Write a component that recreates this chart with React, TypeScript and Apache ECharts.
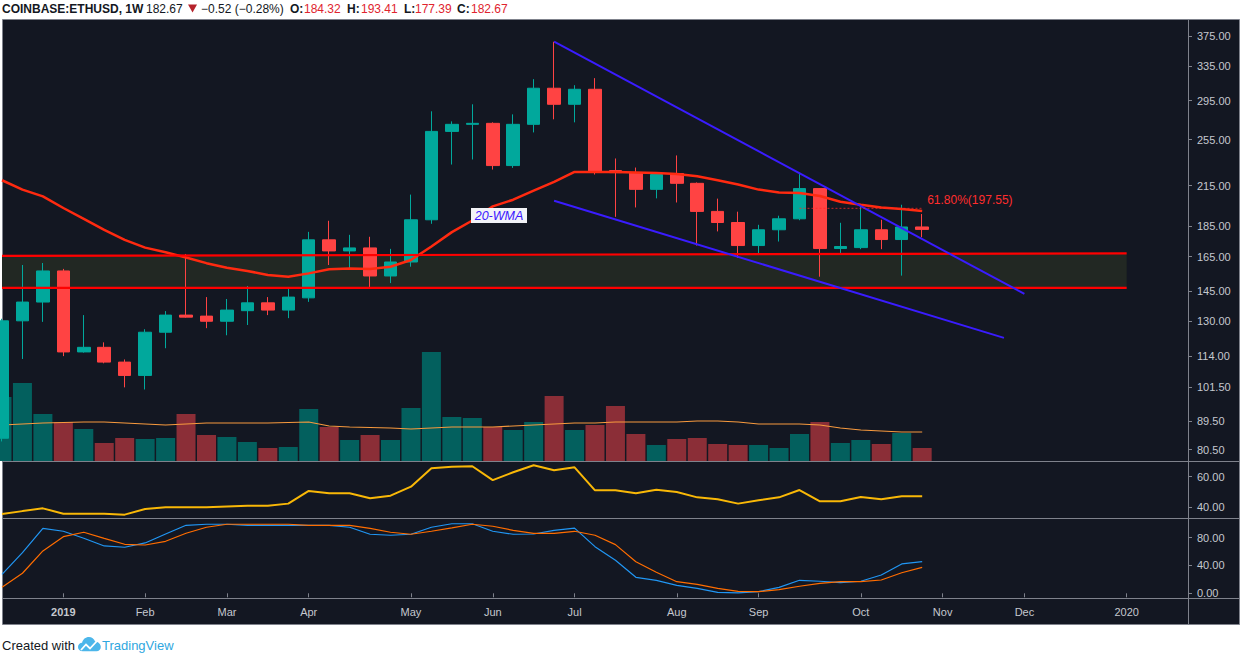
import React, { useEffect, useRef } from "react";
import * as echarts from "echarts";

// ---------- DATA ----------
const weeks = ["2018-12-10","2018-12-17","2018-12-24","2018-12-31","2019-01-07","2019-01-14","2019-01-21","2019-01-28","2019-02-04","2019-02-11","2019-02-18","2019-02-25","2019-03-04","2019-03-11","2019-03-18","2019-03-25","2019-04-01","2019-04-08","2019-04-15","2019-04-22","2019-04-29","2019-05-06","2019-05-13","2019-05-20","2019-05-27","2019-06-03","2019-06-10","2019-06-17","2019-06-24","2019-07-01","2019-07-08","2019-07-15","2019-07-22","2019-07-29","2019-08-05","2019-08-12","2019-08-19","2019-08-26","2019-09-02","2019-09-09","2019-09-16","2019-09-23","2019-09-30","2019-10-07","2019-10-14","2019-10-21","2019-10-28","2019-11-04","2019-11-11","2019-11-18","2019-11-25","2019-12-02","2019-12-09","2019-12-16","2019-12-23","2019-12-30","2020-01-06","2020-01-13","2020-01-20"];

const candleOpen = [84, 130, 139.4, 156.5, 115.8, 117.8, 111.5, 106.1, 124.6, 132.8, 132.3, 129.8, 135, 139, 135.3, 141.6, 175.7, 168.6, 170.5, 153.6, 161.8, 189.3, 263, 270, 271, 231.6, 270, 308.8, 290.9, 307.6, 227.3, 225.6, 212, 224.8, 216.8, 195.3, 187.4, 172, 182.4, 190, 212.6, 170.1, 170.7, 182.4, 175.9, 184.32];
const candleClose = [130, 139.4, 156.5, 115.8, 117.8, 111.5, 106.1, 124.6, 132.8, 131.8, 129.8, 135.3, 139, 135.3, 142, 175.7, 168.6, 170.5, 153.6, 161.8, 189.3, 263, 270, 271, 231.6, 270, 308.8, 290.9, 307.6, 226.5, 225.6, 212, 224, 216.8, 195.3, 187.4, 172, 182.4, 190, 212.6, 170.1, 171.4, 182.4, 175.9, 184.32, 182.67];
const candleLow = [83, 112.8, 129.5, 114, 115.5, 111, 101.5, 100.7, 117.4, 131.5, 126.5, 123.2, 128, 132.8, 131.3, 139.5, 160, 157.1, 146.9, 149.6, 159, 186.5, 232.5, 236.9, 228.2, 229.6, 262, 275.1, 272, 224, 191.4, 198.2, 205, 201.9, 172, 181.3, 164.3, 166.1, 174.6, 189, 153.2, 166.3, 169.7, 169.7, 153.8, 177.39];
const candleHigh = [131, 160, 161.2, 157.7, 132.8, 120, 112.6, 126, 134.8, 166.7, 142, 141, 148, 142, 146.3, 181, 188.6, 179, 177.7, 169.9, 207.9, 283.4, 273, 290.9, 272, 280.2, 319.4, 367.1, 312.3, 320.6, 237.8, 229.9, 225.9, 240.5, 217.5, 204.8, 195.1, 185.8, 192.2, 225.6, 213, 187.2, 199, 189.3, 200.2, 193.41];

const volume = [640, 780, 470, 390, 320, 180, 230, 220, 230, 470, 260, 240, 190, 130, 140, 520, 340, 210, 260, 210, 530, 1090, 440, 430, 340, 310, 390, 650, 310, 360, 550, 270, 160, 220, 230, 170, 160, 160, 130, 270, 390, 180, 210, 170, 280, 130];
const volumeMA = [360, 370, 380, 385, 390, 390, 380, 370, 360, 370, 380, 380, 380, 380, 385, 390, 350, 340, 335, 330, 320, 330, 340, 340, 340, 350, 360, 370, 380, 380, 390, 390, 390, 390, 400, 400, 390, 370, 370, 370, 360, 330, 310, 300, 290, 290];

const wma20 = [219.3, 211.8, 206.5, 197.8, 190.0, 182.4, 175.7, 170.7, 167.8, 164.5, 161.1, 158.4, 156.5, 154.2, 153.2, 155.1, 157.5, 158.0, 157.7, 159.0, 163.0, 171.4, 180.8, 188.8, 199.0, 204.0, 211.0, 218.0, 226.2, 226.2, 226.2, 225.8, 225.2, 224.5, 222.6, 219.3, 215.8, 211.8, 209.6, 209.2, 206.8, 202.4, 200.2, 198.2, 197.1, 195.6];

const rsi = [35.6, 37.5, 39.3, 35.8, 35.8, 35.8, 35.2, 38.9, 40.0, 40.0, 40.0, 40.5, 41.0, 41.0, 42.4, 50.7, 49.2, 49.2, 45.9, 47.6, 53.5, 65.5, 66.5, 66.8, 57.8, 62.9, 67.5, 64.2, 66.1, 51.1, 51.1, 49.2, 51.5, 50.0, 46.5, 45.2, 42.4, 44.6, 46.5, 51.3, 43.9, 43.9, 46.7, 45.2, 47.2, 47.2];
const stochK = [27.3, 58.4, 93.5, 89.2, 79.1, 68.1, 66.2, 72.4, 85.3, 97.8, 99.3, 99.3, 97.8, 97.8, 97.8, 97.8, 97.8, 95.0, 84.9, 83.5, 84.9, 95.0, 100, 100, 89.2, 84.9, 85.3, 90.6, 93.8, 67.1, 47.5, 23.0, 18.7, 11.5, 7.2, 1.4, 0.5, 2.4, 8.6, 18.7, 17.3, 15.3, 17.3, 26.3, 42.2, 45.5];
const stochD = [8.6, 28.8, 60.9, 81.4, 87.8, 79.1, 70.5, 69.5, 74.8, 86.3, 95.0, 99.3, 99.3, 99.3, 99.3, 97.8, 97.8, 97.8, 93.5, 87.8, 84.9, 89.2, 94.0, 99.3, 96.4, 90.6, 86.3, 86.3, 89.2, 83.5, 70.0, 45.5, 30.2, 16.7, 12.9, 7.2, 2.9, 2.4, 5.2, 10.1, 14.4, 16.7, 16.7, 19.1, 29.6, 37.4];

const priceTicks = [375, 335, 295, 255, 215, 185, 165, 145, 130, 114, 101.5, 89.5, 80.5];
const rsiTicks = [40, 60];
const stochTicks = [0, 40, 80];
const monthTickWeeks = ["2018-12-31", "2019-01-28", "2019-02-25", "2019-03-25", "2019-04-29", "2019-05-27", "2019-06-24", "2019-07-29", "2019-08-26", "2019-09-30", "2019-10-28", "2019-11-25", "2019-12-30"];
const monthTickLabels = ["2019", "Feb", "Mar", "Apr", "May", "Jun", "Jul", "Aug", "Sep", "Oct", "Nov", "Dec", "2020"];
const boldTickLabels = ["2019"];

const zoneWeeks = ["2018-12-10", "2019-12-30"];
const zoneUpper = [165.5, 167.1];
const zoneLower = [146.9, 146.9];
const upperTrendWeeks = ["2019-06-17", "2019-11-25"];
const upperTrendPrices = [367.2, 143.7];
const lowerTrendWeeks = ["2019-06-17", "2019-11-18"];
const lowerTrendPrices = [203.2, 122.0];
const fibWeeks = ["2019-09-09", "2019-10-21"];
const fibLevel = 197.55;
const fibLabel = "61.80%(197.55)";

const priceAxisRange = [77.18, 399.5];
const rsiAxisRange = [33.0, 70.26];
const stochAxisRange = [-6.76, 108.3];
const volumeAxisMax = 4420;

// ---------- STYLE ----------
const BG = "#131722";
const LINE = "#7f828c";
const LABEL = "#c5c8cf";
const UP = "#01a89c";
const DOWN = "#ff4343";
const UP_VOL = "#03605e";
const DOWN_VOL = "#8b2e37";
const FONT = '"Liberation Sans", Arial, sans-serif';

const L = Math.log;

echarts.graphic.registerShape(
  "tvlogo",
  echarts.graphic.extendPath(
    "M5 16 C2 16 0 14 0 11.5 C0 9 2 7.2 4.3 7.1 C5 3.5 8 1 11.5 1 C14.5 1 17 3 18 5.8 C21.3 6 24 8.5 24 11.5 C24 14 22 16 19.5 16 Z",
    {}
  ) as any
);

function buildOption(): any {
  const tickSet = new Set(monthTickWeeks);
  const showTick = (i: number) => tickSet.has(weeks[i]);
  const fmtMonth = (v: string) => {
    const t = monthTickLabels[monthTickWeeks.indexOf(v)] || "";
    return boldTickLabels.includes(t) ? `{b|${t}}` : t;
  };

  const grids = [
    { left: 2, right: 55, top: 19, height: 442 },
    { left: 2, right: 55, top: 461, height: 57 },
    { left: 2, right: 55, top: 518, height: 80 },
  ].map((g) => ({ ...g, show: false, containLabel: false, outerBoundsMode: "none" }));

  const xAxes = [0, 1, 2].map((gi) => ({
    type: "category",
    gridIndex: gi,
    data: weeks,
    boundaryGap: false,
    axisLine: { show: false },
    splitLine: { show: false },
    axisTick: { show: gi === 2, interval: showTick, length: 4, lineStyle: { color: LINE } },
    axisLabel: {
      show: gi === 2,
      interval: showTick,
      formatter: fmtMonth,
      color: LABEL,
      fontSize: 11,
      fontFamily: FONT,
      margin: 8,
      rich: { b: { fontWeight: "bold", color: LABEL, fontSize: 11, fontFamily: FONT } },
    },
  }));

  const yAxisCommon = (gi: number, min: number, max: number, ticks: number[], fmt: (v: number) => string) => ({
    type: "value",
    gridIndex: gi,
    position: "right",
    min,
    max,
    splitLine: { show: false },
    axisLine: { show: false },
    axisTick: { show: true, customValues: ticks, length: 4, lineStyle: { color: LINE } },
    axisLabel: { customValues: ticks, formatter: fmt, color: LABEL, fontSize: 11, fontFamily: FONT, margin: 9 },
  });

  const yAxes = [
    yAxisCommon(0, L(priceAxisRange[0]), L(priceAxisRange[1]), priceTicks.map(L), (v) => Math.exp(v).toFixed(2)),
    { type: "value", gridIndex: 0, min: 0, max: volumeAxisMax, show: false, splitLine: { show: false } },
    yAxisCommon(1, rsiAxisRange[0], rsiAxisRange[1], rsiTicks, (v) => v.toFixed(2)),
    yAxisCommon(2, stochAxisRange[0], stochAxisRange[1], stochTicks, (v) => v.toFixed(2)),
  ];

  const candleData = candleOpen.map((o, i) => [L(o), L(candleClose[i]), L(candleLow[i]), L(candleHigh[i])]);
  const volData = volume.map((v, i) => ({
    value: v,
    itemStyle: { color: candleClose[i] >= candleOpen[i] ? UP_VOL : DOWN_VOL },
  }));

  const line = (data: any[], color: string, width: number, z: number, xi = 0, yi = 0, extra: any = {}) => ({
    type: "line",
    data,
    xAxisIndex: xi,
    yAxisIndex: yi,
    symbol: "none",
    silent: true,
    lineStyle: { color, width },
    z,
    ...extra,
  });

  const series: any[] = [
    {
      type: "custom",
      xAxisIndex: 0,
      yAxisIndex: 0,
      silent: true,
      z: 1,
      data: [[zoneWeeks[0], L(zoneLower[0])]],
      renderItem: (_p: any, api: any) => {
        const i0 = weeks.indexOf(zoneWeeks[0]);
        const i1 = weeks.indexOf(zoneWeeks[1]);
        const pts = [
          api.coord([i0, L(zoneLower[0])]),
          api.coord([i1, L(zoneLower[1])]),
          api.coord([i1, L(zoneUpper[1])]),
          api.coord([i0, L(zoneUpper[0])]),
        ];
        return { type: "polygon", shape: { points: pts }, style: { fill: "#222823" } };
      },
    },
    { type: "bar", data: volData, xAxisIndex: 0, yAxisIndex: 1, barWidth: 19, silent: true, z: 2 },
    line(volumeMA, "#f79a3e", 1.2, 3, 0, 1),
    {
      type: "candlestick",
      data: candleData,
      xAxisIndex: 0,
      yAxisIndex: 0,
      barWidth: 13,
      silent: true,
      z: 4,
      itemStyle: { color: UP, color0: DOWN, borderColor: UP, borderColor0: DOWN, borderWidth: 1 },
    },
    line(wma20.map(L), "#ff2a10", 2.5, 5),
    line(zoneWeeks.map((w, i) => [w, L(zoneUpper[i])]), "#ff0000", 2.2, 6),
    line(zoneWeeks.map((w, i) => [w, L(zoneLower[i])]), "#ff0000", 2.2, 6),
    line(upperTrendWeeks.map((w, i) => [w, L(upperTrendPrices[i])]), "#3a1cff", 2, 7),
    line(lowerTrendWeeks.map((w, i) => [w, L(lowerTrendPrices[i])]), "#3a1cff", 2, 7),
    {
      ...line(fibWeeks.map((w) => [w, L(fibLevel)]), "rgba(255,40,40,0.75)", 1, 7),
      lineStyle: { color: "rgba(255,40,40,0.75)", width: 1, type: [2, 2] },
      endLabel: {
        show: true,
        formatter: fibLabel,
        color: "#ff2d2d",
        fontSize: 12,
        fontFamily: FONT,
        distance: 5,
        offset: [0, -8],
      },
    },
    line(rsi, "#f9b807", 2, 5, 1, 2),
    line(stochK, "#2196f3", 1.2, 5, 2, 3),
    line(stochD, "#ff6d00", 1.2, 5, 2, 3),
  ];

  const headerSegs = [
    { text: "COINBASE:ETHUSD, 1W", x: 2, bold: true, color: "#131722" },
    { text: "182.67", x: 146, bold: false, color: "#131722" },
    { text: "\u22120.52 (\u22120.28%)", x: 201, bold: false, color: "#131722" },
    { text: "O:", x: 290, bold: true, color: "#131722" },
    { text: "184.32", x: 304, bold: false, color: "#e0242e" },
    { text: "H:", x: 347, bold: true, color: "#131722" },
    { text: "193.41", x: 361, bold: false, color: "#e0242e" },
    { text: "L:", x: 404, bold: true, color: "#131722" },
    { text: "177.39", x: 415, bold: false, color: "#e0242e" },
    { text: "C:", x: 457, bold: true, color: "#131722" },
    { text: "182.67", x: 471, bold: false, color: "#e0242e" },
  ];

  const graphic: any[] = [
    {
      type: "rect",
      z: -10,
      silent: true,
      shape: { x: 2.5, y: 19.5, width: 1237, height: 605 },
      style: { fill: BG, stroke: LINE, lineWidth: 1 },
    },
    ...[461.5, 518.5, 598.5].map((y) => ({
      type: "line",
      z: 20,
      silent: true,
      shape: { x1: 2.5, y1: y, x2: 1239.5, y2: y },
      style: { stroke: LINE, lineWidth: 1 },
    })),
    {
      type: "line",
      z: 20,
      silent: true,
      shape: { x1: 1188.5, y1: 19.5, x2: 1188.5, y2: 624.5 },
      style: { stroke: LINE, lineWidth: 1 },
    },
    {
      type: "rect",
      z: 30,
      silent: true,
      shape: { x: 471, y: 208, width: 56, height: 15 },
      style: { fill: "#f2f3f7" },
    },
    {
      type: "text",
      z: 31,
      silent: true,
      style: {
        text: "20-WMA",
        x: 499,
        y: 216,
        align: "center",
        verticalAlign: "middle",
        textAlign: "center",
        textVerticalAlign: "middle",
        fontStyle: "italic",
        fontSize: 12.5,
        fontFamily: FONT,
        fill: "#3a17ff",
      },
    },
    ...headerSegs.map((s) => ({
      type: "text",
      z: 30,
      silent: true,
      style: {
        text: s.text,
        x: s.x,
        y: 9,
        verticalAlign: "middle",
        textVerticalAlign: "middle",
        fontSize: 12,
        fontWeight: s.bold ? "bold" : "normal",
        fontFamily: FONT,
        fill: s.color,
      },
    })),
    {
      type: "polygon",
      z: 30,
      silent: true,
      shape: { points: [[188, 4.5], [197, 4.5], [192.5, 12.5]] },
      style: { fill: "#b5232c" },
    },
    {
      type: "text",
      z: 30,
      silent: true,
      style: {
        text: "Created with",
        x: 2,
        y: 645,
        verticalAlign: "middle",
        textVerticalAlign: "middle",
        fontSize: 13,
        fontFamily: FONT,
        fill: "#131722",
      },
    },
    {
      type: "tvlogo",
      z: 30,
      silent: true,
      x: 78,
      y: 636,
      scaleX: 0.95,
      scaleY: 0.95,
      style: { fill: "#4cb6ea" },
    },
    {
      type: "polyline",
      z: 31,
      silent: true,
      shape: { points: [[81, 650], [86, 644.5], [90, 648.5], [97, 641]] },
      style: { stroke: "#ffffff", lineWidth: 1.8, fill: null },
    },
    {
      type: "text",
      z: 30,
      silent: true,
      style: {
        text: "TradingView",
        x: 102,
        y: 645,
        verticalAlign: "middle",
        textVerticalAlign: "middle",
        fontSize: 13,
        fontFamily: FONT,
        fill: "#2fa7e0",
      },
    },
  ];

  return {
    animation: false,
    backgroundColor: "#ffffff",
    grid: grids,
    xAxis: xAxes,
    yAxis: yAxes,
    series,
    graphic: { elements: graphic },
  };
}

export default function App() {
  const ref = useRef<HTMLDivElement>(null);
  useEffect(() => {
    document.body.style.margin = "0";
    const chart = echarts.init(ref.current as HTMLDivElement, null, { renderer: "svg", width: 1243, height: 654 });
    chart.setOption(buildOption());
    return () => chart.dispose();
  }, []);
  return <div ref={ref} style={{ width: 1243, height: 654, background: "#ffffff" }} />;
}
